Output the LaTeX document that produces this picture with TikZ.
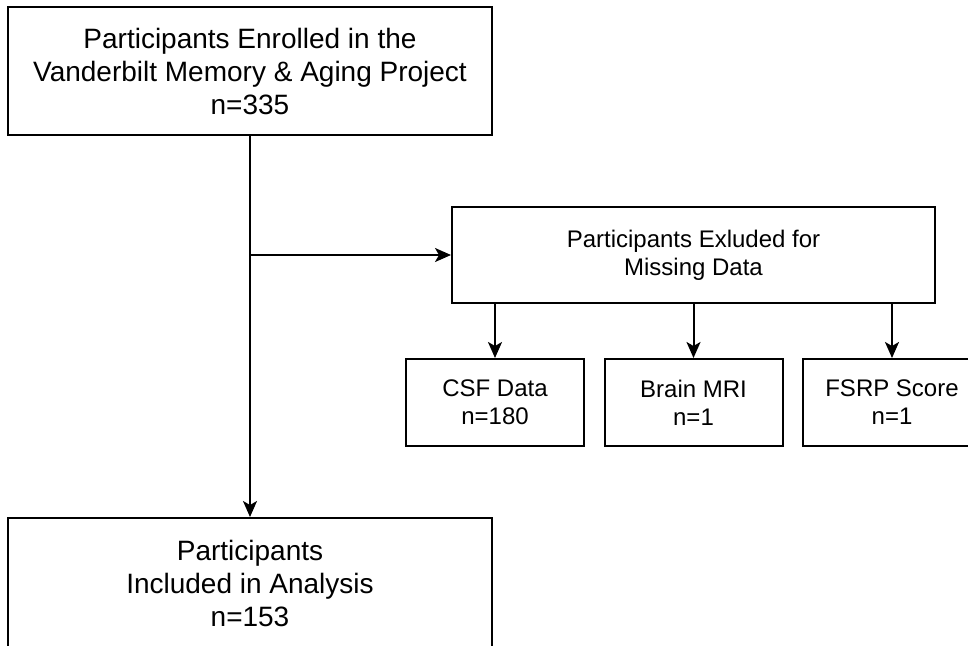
\documentclass[tikz,border=0pt]{standalone}
\usepackage{fontspec}
\setmainfont{Liberation Sans}
\usetikzlibrary{arrows.meta}

\begin{document}
\begin{tikzpicture}[x=1pt,y=-1pt,>={Stealth[length=16pt,width=14pt,inset=4pt]},
    line width=2pt,
    bigbox/.style={draw,align=center,minimum width=484pt,minimum height=128pt,font=\fontsize{28}{33}\selectfont},
    midbox/.style={draw,align=center,minimum width=483pt,minimum height=96pt,font=\fontsize{24}{28}\selectfont},
    smallbox/.style={draw,align=center,minimum width=178pt,minimum height=87pt,font=\fontsize{24}{28}\selectfont}]
                \useasboundingbox (0,0) rectangle (968,645);
                \node[bigbox] (enrolled) at (250,71) {Participants Enrolled in the\\Vanderbilt Memory \& Aging Project\\n=335};
                \node[midbox] (excluded) at (693.5,255) {Participants Exluded for\\Missing Data};
                \node[smallbox] (csf) at (495,402.5) {CSF Data\\n=180};
                \node[smallbox] (mri) at (693.5,402.5) {Brain MRI\\n=1};
                \node[smallbox] (fsrp) at (892,402.5) {FSRP Score\\n=1};
                \node[bigbox,minimum height=131pt] (included) at (250,583.5) {Participants\\Included in Analysis\\n=153};
                \draw[->] (enrolled.south) -- (included.north);
                \draw[->] (enrolled.south |- excluded.west) -- (excluded.west);
                \foreach \b in {csf,mri,fsrp}
                    \draw[->] (excluded.south -| \b.north) -- (\b.north);
            \end{tikzpicture}
\end{document}
